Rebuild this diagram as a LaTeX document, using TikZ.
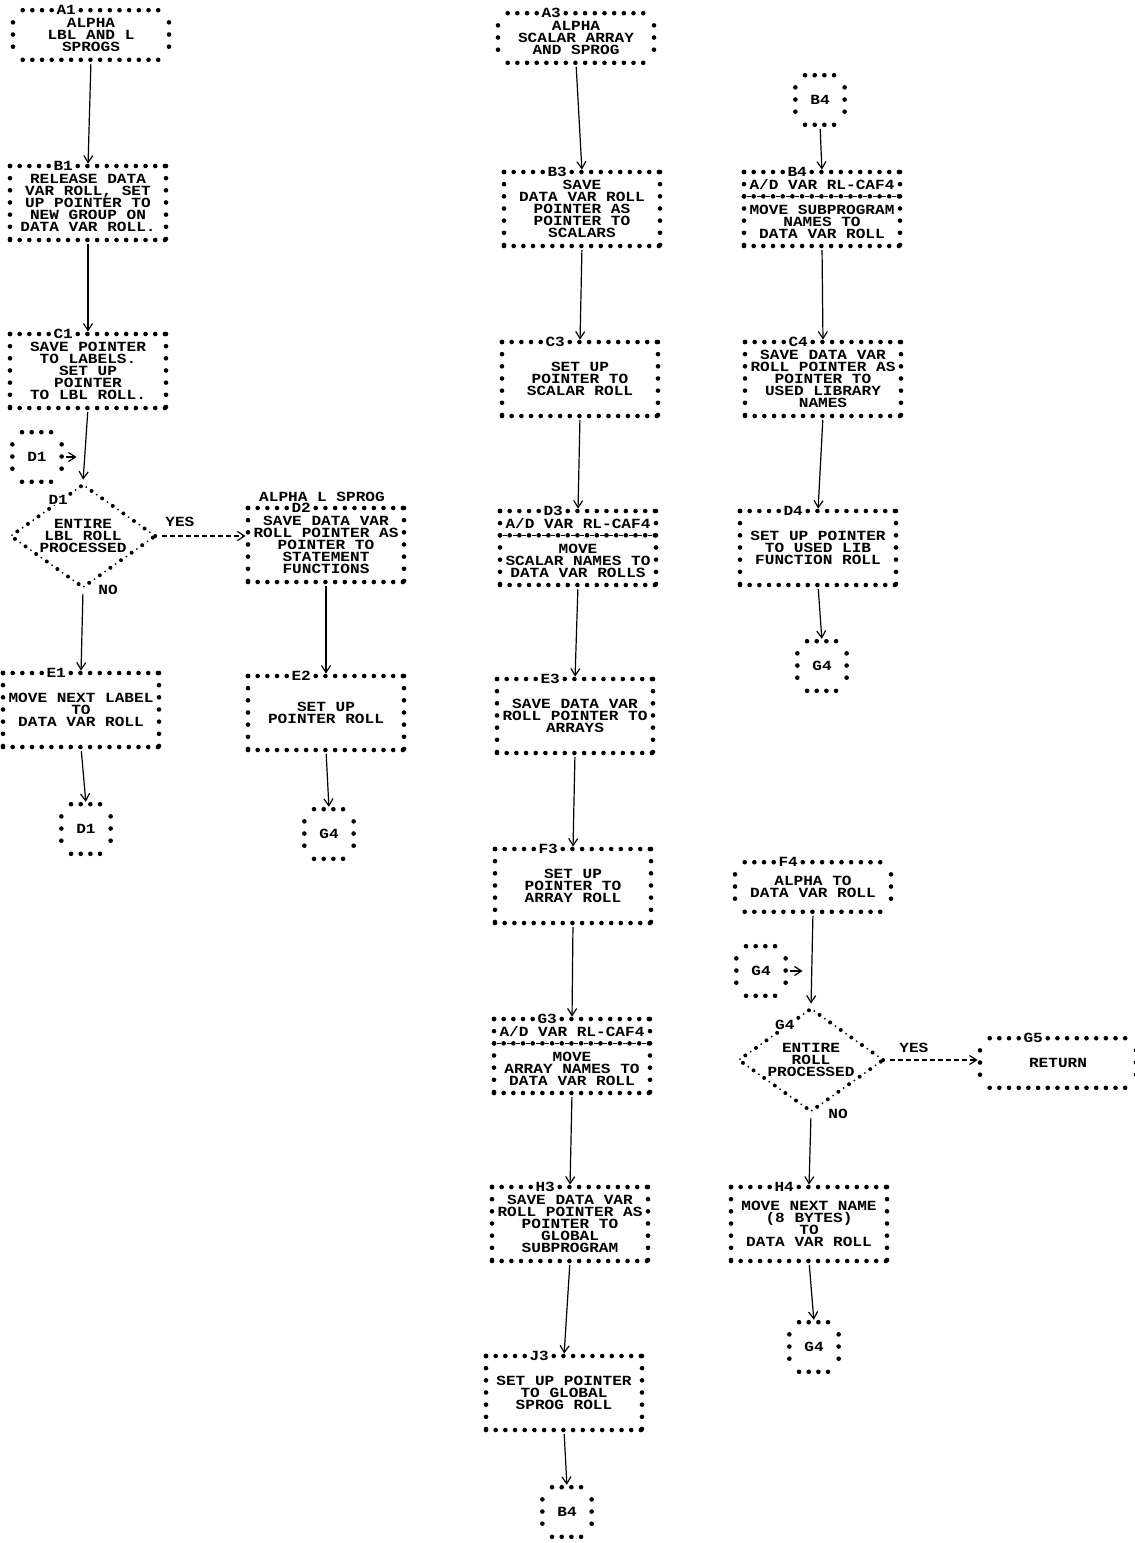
\documentclass[tikz,border=0pt]{standalone}
\usepackage{fontspec}
\usetikzlibrary{arrows.meta, shapes.geometric, calc}
\newfontfamily\prtfont{Liberation Mono}[FakeStretch=1.15]
\newcommand{\prtsize}{\prtfont\bfseries\fontsize{7}{6.08}\selectfont\lineskiplimit=-10pt\relax}

% 方框：星号边框
\newcommand{\starframe}[1]{%
  \draw[hstars] (#1.north west) -- (#1.north east);
  \draw[hstars] (#1.south west) -- (#1.south east);
  \draw[vstars] (#1.north west) -- (#1.south west);
  \draw[vstars] (#1.north east) -- (#1.south east);}
% 端点框、连接符：四角空缺
\newcommand{\capframe}[1]{%
  \draw[hstars] ([xshift=4.84pt]#1.north west) -- ([xshift=-4.84pt]#1.north east);
  \draw[hstars] ([xshift=4.84pt]#1.south west) -- ([xshift=-4.84pt]#1.south east);
  \draw[vstars] ([yshift=-6.08pt]#1.north west) -- ([yshift=6.08pt]#1.south west);
  \draw[vstars] ([yshift=-6.08pt]#1.north east) -- ([yshift=6.08pt]#1.south east);}
% 分隔行 *-*-*-
\newcommand{\sepline}[1]{%
  \draw[sepstars] ([yshift=-12.16pt]#1.north west) -- ([yshift=-12.16pt]#1.north east);}

\begin{document}
\begin{tikzpicture}[x=0.5pt, y=-0.5pt, >={Straight Barb[length=3.5pt,width=4.5pt]},
  hstars/.style={line width=2.3pt, line cap=round, dash pattern=on 0pt off 4.84pt},
  vstars/.style={line width=2.3pt, line cap=round, dash pattern=on 0pt off 6.08pt},
  sepstars/.style={hstars, postaction={draw, line width=0.6pt, line cap=butt,
      dash pattern=on 2pt off 2.84pt, dash phase=3.42pt}},
  procbox/.style={rectangle, minimum width=77.6pt, minimum height=36.6pt,
      inner sep=0pt, align=center, font=\prtsize},
  termbox/.style={procbox, minimum height=24.4pt},
  connbox/.style={procbox, minimum width=24.25pt, minimum height=24.4pt},
  decision/.style={diamond, minimum width=73pt, minimum height=52pt, inner sep=0pt,
      aspect=1.4, align=center, font=\prtsize, draw, line width=2pt, line cap=round,
      dash pattern=on 0pt off 6.5pt,
      postaction={draw, line width=1pt, dash pattern=on 0pt off 6.5pt, dash phase=3.25pt}},
  boxtag/.style={fill=white, inner sep=0.3pt, font=\prtsize},
  lbl/.style={inner sep=0.5pt, font=\prtsize},
  flowline/.style={->, line width=0.6pt, shorten <=2pt, shorten >=1.2pt},
  yesflow/.style={flowline, dash pattern=on 2.5pt off 1.5pt}]

\useasboundingbox (0,0) rectangle (1135,1543);

% 第一列
\node (a1) [termbox] at (91,35) {ALPHA\\LBL AND L\\SPROGS};
\capframe{a1}
\node (a1tag) [boxtag] at ([xshift=26.62pt]a1.north west) {A1};

\node (b1) [procbox] at (88,203) {RELEASE DATA\\VAR ROLL, SET\\UP POINTER TO\\NEW GROUP ON\\DATA VAR ROLL.};
\starframe{b1}
\node (b1tag) [boxtag] at ([xshift=26.62pt]b1.north west) {B1};

\node (c1) [procbox] at (88,371) {SAVE POINTER\\TO LABELS.\\SET UP\\POINTER\\TO LBL ROLL.};
\starframe{c1}
\node (c1tag) [boxtag] at ([xshift=26.62pt]c1.north west) {C1};

\node (d1in) [connbox] at (37,457) {D1};
\capframe{d1in}
\coordinate (d1join) at (79,457);

\node (d1) [decision] at (83,536) {ENTIRE\\LBL ROLL\\PROCESSED};
\node (d1tag) [boxtag] at ($(d1.north)!0.33!(d1.west)$) {D1};
\node (d1yes) [lbl, anchor=south west] at ([xshift=3pt,yshift=4pt]d1.east) {YES};
\node (d1no) [lbl, anchor=west] at ([xshift=7pt]d1.south) {NO};

\node (e1) [procbox] at (81,710) {MOVE NEXT LABEL\\TO\\DATA VAR ROLL};
\starframe{e1}
\node (e1tag) [boxtag] at ([xshift=26.62pt]e1.north west) {E1};

\node (d1out) [connbox] at (86,829) {D1};
\capframe{d1out}

% 第二列
\node (d2) [procbox] at (326,545) {SAVE DATA VAR\\ROLL POINTER AS\\POINTER TO\\STATEMENT\\FUNCTIONS};
\starframe{d2}
\node (d2tag) [boxtag] at ([xshift=26.62pt]d2.north west) {D2};
\node (d2head) [lbl, anchor=south] at ([xshift=-2pt,yshift=2.5pt]d2.north) {ALPHA L SPROG};

\node (e2) [procbox] at (326,713) {SET UP\\POINTER ROLL};
\starframe{e2}
\node (e2tag) [boxtag] at ([xshift=26.62pt]e2.north west) {E2};

\node (g4a) [connbox] at (329,834) {G4};
\capframe{g4a}

% 第三列
\node (a3) [termbox] at (576,38) {ALPHA\\SCALAR ARRAY\\AND SPROG};
\capframe{a3}
\node (a3tag) [boxtag] at ([xshift=26.62pt]a3.north west) {A3};

\node (b3) [procbox] at (582,209) {SAVE\\DATA VAR ROLL\\POINTER AS\\POINTER TO\\SCALARS};
\starframe{b3}
\node (b3tag) [boxtag] at ([xshift=26.62pt]b3.north west) {B3};

\node (c3) [procbox] at (580,379) {SET UP\\POINTER TO\\SCALAR ROLL};
\starframe{c3}
\node (c3tag) [boxtag] at ([xshift=26.62pt]c3.north west) {C3};

\node (d3) [procbox] at (578,548) {A/D VAR RL-CAF4\\~\\MOVE\\SCALAR NAMES TO\\DATA VAR ROLLS};
\starframe{d3}
\sepline{d3}
\node (d3tag) [boxtag] at ([xshift=26.62pt]d3.north west) {D3};

\node (e3) [procbox] at (575,716) {SAVE DATA VAR\\ROLL POINTER TO\\ARRAYS};
\starframe{e3}
\node (e3tag) [boxtag] at ([xshift=26.62pt]e3.north west) {E3};

\node (f3) [procbox] at (573,886) {SET UP\\POINTER TO\\ARRAY ROLL};
\starframe{f3}
\node (f3tag) [boxtag] at ([xshift=26.62pt]f3.north west) {F3};

\node (g3) [procbox] at (572,1056) {A/D VAR RL-CAF4\\~\\MOVE\\ARRAY NAMES TO\\DATA VAR ROLL};
\starframe{g3}
\sepline{g3}
\node (g3tag) [boxtag] at ([xshift=26.62pt]g3.north west) {G3};

\node (h3) [procbox] at (570,1224) {SAVE DATA VAR\\ROLL POINTER AS\\POINTER TO\\GLOBAL\\SUBPROGRAM};
\starframe{h3}
\node (h3tag) [boxtag] at ([xshift=26.62pt]h3.north west) {H3};

\node (j3) [procbox] at (564,1393) {SET UP POINTER\\TO GLOBAL\\SPROG ROLL};
\starframe{j3}
\node (j3tag) [boxtag] at ([xshift=26.62pt]j3.north west) {J3};

\node (b4out) [connbox] at (567,1512) {B4};
\capframe{b4out}

% 第四列
\node (b4in) [connbox] at (820,100) {B4};
\capframe{b4in}

\node (b4) [procbox] at (822,209) {A/D VAR RL-CAF4\\~\\MOVE SUBPROGRAM\\NAMES TO\\DATA VAR ROLL};
\starframe{b4}
\sepline{b4}
\node (b4tag) [boxtag] at ([xshift=26.62pt]b4.north west) {B4};

\node (c4) [procbox] at (823,379) {SAVE DATA VAR\\ROLL POINTER AS\\POINTER TO\\USED LIBRARY\\NAMES};
\starframe{c4}
\node (c4tag) [boxtag] at ([xshift=26.62pt]c4.north west) {C4};

\node (d4) [procbox] at (818,548) {SET UP POINTER\\TO USED LIB\\FUNCTION ROLL};
\starframe{d4}
\node (d4tag) [boxtag] at ([xshift=26.62pt]d4.north west) {D4};

\node (g4b) [connbox] at (822,666) {G4};
\capframe{g4b}

\node (f4) [termbox] at (813,887) {ALPHA TO\\DATA VAR ROLL};
\capframe{f4}
\node (f4tag) [boxtag] at ([xshift=26.62pt]f4.north west) {F4};

\node (g4in) [connbox] at (761,971) {G4};
\capframe{g4in}
\coordinate (g4join) at (805,971);

\node (g4) [decision] at (811,1060) {ENTIRE\\ROLL\\PROCESSED};
\node (g4tag) [boxtag] at ($(g4.north)!0.35!(g4.west)$) {G4};
\node (g4yes) [lbl, anchor=south west] at ([xshift=6pt,yshift=3pt]g4.east) {YES};
\node (g4no) [lbl, anchor=west] at ([xshift=8pt]g4.south) {NO};

\node (g5) [termbox] at (1058,1063) {RETURN};
\capframe{g5}
\node (g5tag) [boxtag] at ([xshift=26.62pt]g5.north west) {G5};

\node (h4) [procbox] at (809,1224) {MOVE NEXT NAME\\(8 BYTES)\\TO\\DATA VAR ROLL};
\starframe{h4}
\node (h4tag) [boxtag] at ([xshift=26.62pt]h4.north west) {H4};

\node (g4c) [connbox] at (814,1347) {G4};
\capframe{g4c}

% 流程线
\draw[flowline] (a1.south) -- (b1.north);
\draw[flowline] (b1.south) -- (c1.north);
\draw[flowline] (c1.south) -- (d1.north);
\draw[flowline] (d1in.east) -- (d1join);
\draw[yesflow] (d1.east) -- (d1.east -| d2.west);
\draw[flowline] (d1.south) -- (e1.north);
\draw[flowline] (e1.south) -- (d1out.north);
\draw[flowline] (d2.south) -- (e2.north);
\draw[flowline] (e2.south) -- (g4a.north);

\draw[flowline] (a3.south) -- (b3.north);
\draw[flowline] (b3.south) -- (c3.north);
\draw[flowline] (c3.south) -- (d3.north);
\draw[flowline] (d3.south) -- (e3.north);
\draw[flowline] (e3.south) -- (f3.north);
\draw[flowline] (f3.south) -- (g3.north);
\draw[flowline] (g3.south) -- (h3.north);
\draw[flowline] (h3.south) -- (j3.north);
\draw[flowline] (j3.south) -- (b4out.north);

\draw[flowline] (b4in.south) -- (b4.north);
\draw[flowline] (b4.south) -- (c4.north);
\draw[flowline] (c4.south) -- (d4.north);
\draw[flowline] (d4.south) -- (g4b.north);
\draw[flowline] (f4.south) -- (g4.north);
\draw[flowline] (g4in.east) -- (g4join);
\draw[yesflow] (g4.east) -- (g4.east -| g5.west);
\draw[flowline] (g4.south) -- (h4.north);
\draw[flowline] (h4.south) -- (g4c.north);
\end{tikzpicture}
\end{document}
